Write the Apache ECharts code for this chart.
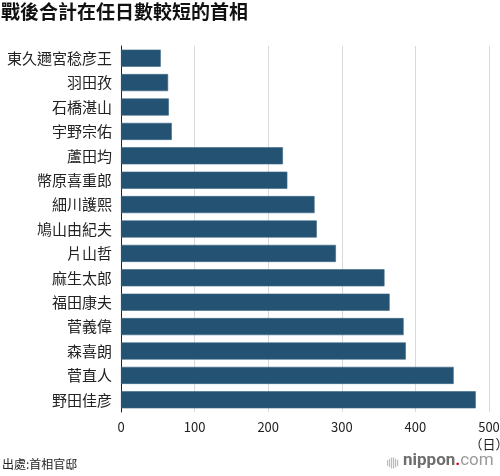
<!DOCTYPE html>
<html>
<head>
<meta charset="utf-8">
<script src="https://cdn.jsdelivr.net/npm/echarts@6/dist/echarts.min.js"></script>
<style>
  html, body { margin: 0; padding: 0; background: #fff; }
  #chart { width: 500px; height: 476px; }
</style>
</head>
<body>
<div id="chart"></div>
<script>
// 首相 & 在任日數（由上到下）
const names = ['東久邇宮稔彦王', '羽田孜', '石橋湛山', '宇野宗佑', '蘆田均', '幣原喜重郎', '細川護熙',
  '鳩山由紀夫', '片山哲', '麻生太郎', '福田康夫', '菅義偉', '森喜朗', '菅直人', '野田佳彦']
const days = [54, 64, 65, 69, 220, 226, 263, 266, 292, 358, 365, 384, 387, 452, 482]
const xTicks = [0, 100, 200, 300, 400, 500]

const FONT = '"Noto Sans CJK TC", "Noto Sans CJK JP", sans-serif'
const chart = echarts.init(document.getElementById('chart'))

// 標誌的小豎線
const iconBars = [0, 2, 4, 6, 8, 10].map((dx, i) => ({
  type: 'rect',
  shape: { x: 387 + dx, y: 457 + Math.abs(i - 2.5) * 1.2, width: 1.2, height: 12 - Math.abs(i - 2.5) * 2.4 },
  style: { fill: '#bbb' },
}))

chart.setOption({
  animation: false,
  textStyle: { fontFamily: FONT },
  grid: { left: 121, right: 11, top: 46, bottom: 64, outerBoundsMode: 'none', containLabel: false },
  xAxis: {
    type: 'value',
    min: xTicks[0],
    max: xTicks[xTicks.length - 1],
    interval: 100,
    axisLine: { show: false },
    axisTick: { show: false },
    splitLine: { lineStyle: { color: '#d9d9d9', width: 1 } },
    axisLabel: {
      color: '#222',
      fontSize: 13,
      margin: 7,
      lineHeight: 17,
      formatter: (v) => (v === 500 ? '500\n（日）' : String(v)),
    },
  },
  yAxis: {
    type: 'category',
    inverse: true,
    data: names,
    axisLine: { lineStyle: { color: '#222', width: 1 } },
    axisTick: { show: false },
    axisLabel: { color: '#222', fontSize: 15, margin: 9 },
  },
  series: [
    {
      type: 'bar',
      data: days,
      barCategoryGap: '30%',
      itemStyle: { color: '#245272', borderColor: '#3a6886', borderWidth: 0.6 },
    },
  ],
  graphic: [
    {
      type: 'text',
      left: 1,
      top: 2,
      style: { text: '戰後合計在任日數較短的首相', fontSize: 19, fontWeight: 'bold', fill: '#111', fontFamily: FONT },
    },
    {
      type: 'text',
      left: 2,
      top: 458,
      style: { text: '出處:首相官邸', fontSize: 12, fill: '#222', fontFamily: FONT },
    },
    ...iconBars,
    {
      type: 'text',
      left: 403,
      top: 452,
      style: {
        text: '{a|nippon}{r|.}{b|com}',
        rich: {
          a: { fontSize: 17, fill: '#6e6e6e', fontFamily: 'Roboto, sans-serif', fontWeight: 'bold' },
          r: { fontSize: 17, fill: '#e60012', fontFamily: 'Roboto, sans-serif', fontWeight: 'bold' },
          b: { fontSize: 17, fill: '#9a9a9a', fontFamily: 'Roboto, sans-serif' },
        },
      },
    },
  ],
})
</script>
</body>
</html>
